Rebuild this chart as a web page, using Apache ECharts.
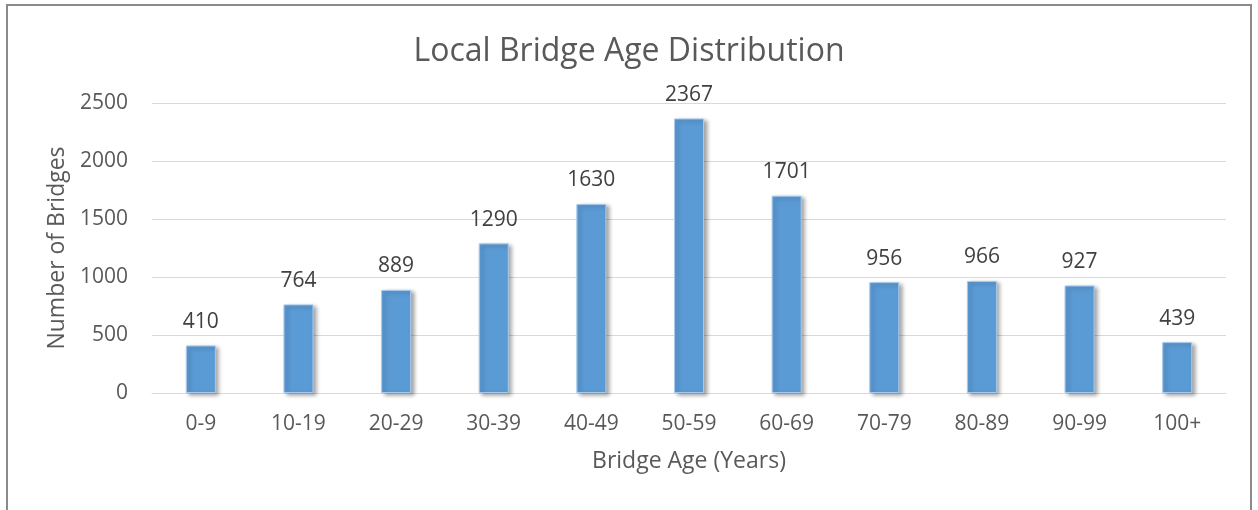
<!DOCTYPE html>
<html>
<head>
<meta charset="utf-8">
<script src="https://cdn.jsdelivr.net/npm/echarts@6/dist/echarts.min.js"></script>
<style>
    body { margin: 0; background: #fff; }
    #frame {
        position: absolute;
        left: 6px;
        top: 4px;
        width: 1246px;
        height: 520px;
        border: 2px solid #8a8a8a;
        box-sizing: border-box;
    }
    #chart {
        position: absolute;
        left: 0;
        top: 0;
        width: 1258px;
        height: 510px;
    }
</style>
</head>
<body>
<div id="frame"></div>
<div id="chart"></div>
<script>
const ageGroups = ['0-9', '10-19', '20-29', '30-39', '40-49', '50-59', '60-69', '70-79', '80-89', '90-99', '100+']
const bridgeCounts = [410, 764, 889, 1290, 1630, 2367, 1701, 956, 966, 927, 439]
const yTicks = [0, 500, 1000, 1500, 2000, 2500]

const chart = echarts.init(document.getElementById('chart'))
const textColor = '#595959'
const fontFamily = '"Open Sans", sans-serif'

chart.setOption({
    animation: false,
    title: {
        text: 'Local Bridge Age Distribution',
        left: 'center',
        top: 31,
        textStyle: {
            fontFamily: fontFamily,
            fontSize: 32,
            fontWeight: 'normal',
            color: textColor
        }
    },
    grid: {
        left: 152,
        right: 32,
        top: 103,
        bottom: 117
    },
    xAxis: {
        type: 'category',
        data: ageGroups,
        name: 'Bridge Age (Years)',
        nameLocation: 'middle',
        nameGap: 57,
        nameTextStyle: { fontFamily: fontFamily, fontSize: 23, color: textColor },
        axisLine: { lineStyle: { color: '#d9d9d9', width: 1 } },
        axisTick: { show: false },
        axisLabel: { fontFamily: fontFamily, fontSize: 21, color: textColor, margin: 21 }
    },
    yAxis: {
        type: 'value',
        min: yTicks[0],
        max: yTicks[yTicks.length - 1],
        interval: 500,
        name: 'Number of Bridges',
        nameLocation: 'middle',
        nameGap: 81,
        nameTextStyle: { fontFamily: fontFamily, fontSize: 23, color: textColor },
        axisLine: { show: false },
        axisTick: { show: false },
        axisLabel: {
            fontFamily: fontFamily,
            fontSize: 21,
            color: textColor,
            margin: 24,
            formatter: (v) => String(v)
        },
        splitLine: { lineStyle: { color: '#d9d9d9', width: 1 } }
    },
    series: [{
        type: 'bar',
        data: bridgeCounts,
        barWidth: 30,
        itemStyle: {
            color: '#5b9bd5',
            borderColor: '#a8c9ec',
            borderWidth: 1,
            shadowColor: 'rgba(0, 0, 0, 0.35)',
            shadowBlur: 4,
            shadowOffsetX: 3,
            shadowOffsetY: 2
        },
        label: {
            show: true,
            position: 'top',
            distance: 13,
            fontFamily: fontFamily,
            fontSize: 21,
            color: '#404040'
        }
    }]
})
</script>
</body>
</html>
